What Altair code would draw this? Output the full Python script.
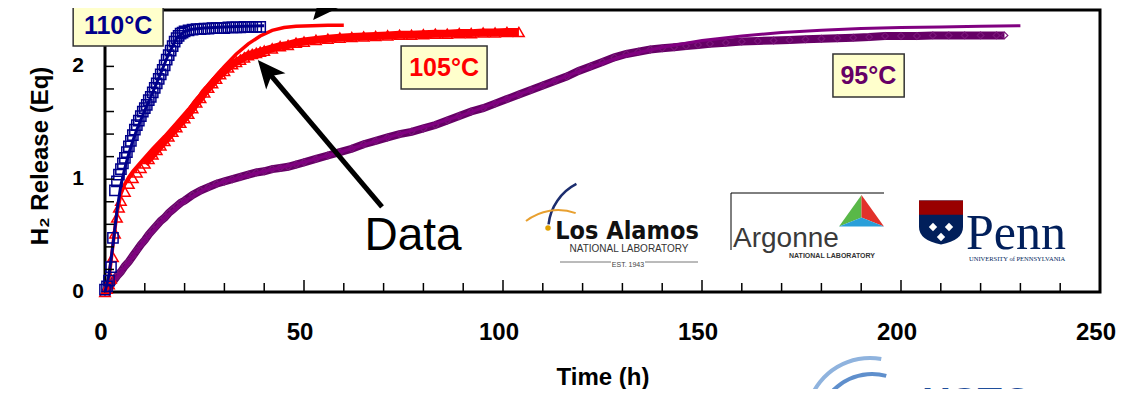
import altair as alt
import pandas as pd

# ---------------- data ----------------
# 110 C : measured points (open squares) and fitted curve
t110 = [0, 0.5, 1.0, 1.5, 2.0, 2.5, 3.0, 3.5, 4.0, 4.5, 5.0, 5.5, 6.0, 6.5, 7.0, 7.5,
        8.0, 8.5, 9.0, 9.5, 10.0, 10.5, 11.0, 11.5, 12.0, 12.5, 13.0, 13.5, 14.0, 14.5,
        15.0, 15.5, 16.0, 16.5, 17.0, 17.5, 18.0, 18.5, 19.0, 19.5, 20.0, 21, 22, 23, 24,
        25, 26, 27, 28, 29, 30, 31, 32, 33, 34, 35, 36, 37, 38, 39]
y110 = [0.02, 0.05, 0.10, 0.22, 0.48, 0.90, 0.98, 1.04, 1.09, 1.14, 1.19, 1.24, 1.29, 1.34,
        1.39, 1.44, 1.48, 1.52, 1.56, 1.60, 1.63, 1.66, 1.70, 1.73, 1.77, 1.81, 1.85, 1.89,
        1.93, 1.97, 2.01, 2.06, 2.10, 2.14, 2.18, 2.22, 2.25, 2.27, 2.29, 2.30, 2.31, 2.32,
        2.325, 2.33, 2.33, 2.335, 2.335, 2.34, 2.34, 2.34, 2.34, 2.345, 2.345, 2.345, 2.345,
        2.35, 2.35, 2.35, 2.35, 2.35]
t110_fit = [0, 1, 2, 3, 4, 5, 6, 7, 8, 10, 12, 14, 16, 18, 20, 22, 25, 30, 35, 40]
y110_fit = [0, 0.15, 0.42, 0.72, 0.95, 1.10, 1.23, 1.34, 1.44, 1.61, 1.77, 1.94, 2.11, 2.25,
            2.31, 2.33, 2.34, 2.35, 2.355, 2.36]

# 105 C : measured points (open triangles) and fitted curve
t105 = [0, 0.5, 1.0, 1.5, 2.0, 2.5, 3.0, 3.5, 4.0, 5, 6, 7, 8, 9, 10, 11, 12, 13, 14, 15,
        16, 17, 18, 19, 20, 21, 22, 23, 24, 25, 26, 27, 28, 29, 30, 31, 32, 33, 34, 35, 36,
        37, 38, 39, 40, 42, 44, 46, 48, 50, 53, 56, 59, 62, 65, 68, 71, 74, 77, 80, 83, 86,
        89, 92, 95, 98, 101, 104]
y105 = [0.0, 0.03, 0.07, 0.12, 0.31, 0.52, 0.66, 0.75, 0.81, 0.89, 0.96, 1.01, 1.06, 1.10,
        1.14, 1.18, 1.22, 1.26, 1.30, 1.34, 1.38, 1.42, 1.46, 1.50, 1.54, 1.58, 1.63, 1.68,
        1.72, 1.77, 1.81, 1.85, 1.89, 1.93, 1.96, 1.99, 2.02, 2.04, 2.06, 2.08, 2.10, 2.11,
        2.12, 2.13, 2.14, 2.16, 2.18, 2.19, 2.21, 2.22, 2.235, 2.245, 2.255, 2.26, 2.265,
        2.27, 2.275, 2.28, 2.28, 2.285, 2.29, 2.29, 2.295, 2.295, 2.30, 2.30, 2.305, 2.305]
t105_fit = [0, 1, 2, 3, 4, 5, 6, 7, 9, 12, 15, 18, 21, 24, 27, 30, 33, 36, 39, 42, 45, 48,
            52, 56, 60]
y105_fit = [0, 0.12, 0.42, 0.70, 0.87, 0.96, 1.02, 1.07, 1.15, 1.27, 1.38, 1.50, 1.62, 1.75,
            1.88, 2.00, 2.11, 2.20, 2.27, 2.32, 2.345, 2.355, 2.36, 2.365, 2.365]

# 95 C : measured points (small diamonds) and fitted curve
t95 = [0, 1, 2, 3, 4, 5, 6, 7, 8, 9, 10, 11, 12, 13, 14, 15, 16, 17, 18, 19, 20, 22, 24,
       26, 28, 30, 32, 34, 36, 38, 40, 42, 44, 46, 48, 50, 53, 56, 59, 62, 65, 68, 71, 74,
       77, 80, 83, 86, 89, 92, 95, 98, 101, 104, 107, 110, 113, 116, 119, 122, 125, 128,
       131, 134, 137, 140, 143, 146, 149, 152, 156, 160, 164, 168, 172, 176, 180, 184, 188,
       192, 196, 200, 204, 208, 212, 216, 220, 224, 226]
y95 = [0.0, 0.05, 0.09, 0.14, 0.18, 0.23, 0.27, 0.32, 0.37, 0.42, 0.46, 0.51, 0.55, 0.59,
       0.63, 0.66, 0.70, 0.73, 0.76, 0.79, 0.81, 0.86, 0.90, 0.93, 0.96, 0.98, 1.00, 1.02,
       1.04, 1.06, 1.07, 1.09, 1.10, 1.11, 1.13, 1.15, 1.18, 1.21, 1.24, 1.27, 1.31, 1.34,
       1.37, 1.40, 1.42, 1.45, 1.48, 1.52, 1.56, 1.60, 1.63, 1.67, 1.71, 1.75, 1.79, 1.83,
       1.87, 1.91, 1.96, 2.00, 2.04, 2.08, 2.11, 2.13, 2.15, 2.16, 2.17, 2.18, 2.19, 2.20,
       2.21, 2.22, 2.225, 2.23, 2.235, 2.24, 2.245, 2.25, 2.255, 2.26, 2.27, 2.27, 2.27,
       2.275, 2.275, 2.275, 2.275, 2.275, 2.275]
t95_fit = [0, 5, 10, 15, 20, 25, 30, 40, 50, 60, 70, 80, 90, 100, 110, 120, 130, 140, 150,
           160, 170, 180, 190, 200, 210, 220, 230]
y95_fit = [0, 0.22, 0.46, 0.66, 0.81, 0.91, 0.98, 1.07, 1.15, 1.25, 1.36, 1.46, 1.57, 1.70,
           1.83, 1.97, 2.09, 2.17, 2.23, 2.27, 2.30, 2.32, 2.335, 2.345, 2.35, 2.355, 2.36]

# axis ticks / labels
x_tick_labels = [0, 50, 100, 150, 200, 250]
y_tick_labels = [0, 1, 2]
x_minor_ticks = [10, 20, 30, 40, 60, 70, 80, 90, 110, 120, 130, 140, 160, 170, 180, 190,
                 210, 220, 230, 240]
x_major_ticks = [50, 100, 150, 200]
y_minor_ticks = [0.2, 0.4, 0.6, 0.8, 1.0, 1.2, 1.4, 1.6, 1.8, 2.0, 2.2, 2.4]
x_extent = [0, 250]
y_extent = [0, 2.5]
x_title = "Time (h)"
y_title = "H₂ Release (Eq)"

series_labels = ["110°C", "105°C", "95°C"]

# ---------------- styling / layout ----------------
FONT = "Liberation Sans"
NAVY = "#00008B"
RED = "#FF0000"
PURPLE_D = "#660066"
PURPLE_L = "#800080"
W, H = 995, 282          # plot area
OX, OY = 105, 10          # page position of plot origin

XS = alt.Scale(domain=x_extent, nice=False, zero=False)
YS = alt.Scale(domain=y_extent, nice=False, zero=False)

ONE = pd.DataFrame({"k": [0]})


def px(x):
    return alt.value(x - OX)


def py(y):
    return alt.value(y - OY)


d110 = pd.DataFrame({"t": t110, "y": y110})
f110 = pd.DataFrame({"t": t110_fit, "y": y110_fit})
d105 = pd.DataFrame({"t": t105, "y": y105})
f105 = pd.DataFrame({"t": t105_fit, "y": y105_fit})
d95 = pd.DataFrame({"t": t95, "y": y95})
f95 = pd.DataFrame({"t": t95_fit, "y": y95_fit})


def enc():
    return dict(x=alt.X("t:Q", scale=XS, axis=None), y=alt.Y("y:Q", scale=YS, axis=None))


layers = []

# 95 C data band + markers
layers.append(alt.Chart(d95).mark_line(color=PURPLE_D, strokeWidth=8, opacity=1)
              .encode(**enc()))
layers.append(alt.Chart(d95).mark_point(shape="diamond", filled=False, size=45,
                                        strokeWidth=1.2, color="#7a157a", opacity=1)
              .encode(**enc()))
layers.append(alt.Chart(f95).mark_line(color=PURPLE_L, strokeWidth=3, opacity=1)
              .encode(**enc()))

# 105 C
layers.append(alt.Chart(d105).transform_filter("datum.t >= 10")
              .mark_line(color=RED, strokeWidth=8, opacity=1).encode(**enc()))
layers.append(alt.Chart(d105).mark_point(shape="triangle-up", filled=False, size=110,
                                         strokeWidth=1.5, color=RED, opacity=1)
              .encode(**enc()))
layers.append(alt.Chart(f105).mark_line(color=RED, strokeWidth=3.5, opacity=1)
              .encode(**enc()))

# 110 C
layers.append(alt.Chart(f110).mark_line(color=NAVY, strokeWidth=3, opacity=1)
              .encode(**enc()))
layers.append(alt.Chart(d110).mark_point(shape="square", filled=False, size=105,
                                         strokeWidth=1.5, color=NAVY, opacity=1)
              .encode(**enc()))

# inward tick marks
layers.append(alt.Chart(pd.DataFrame({"v": x_minor_ticks})).mark_rule(color="black", strokeWidth=1.5)
              .encode(x=alt.X("v:Q", scale=XS, axis=None), y=alt.value(H), y2=alt.value(H - 9)))
layers.append(alt.Chart(pd.DataFrame({"v": x_major_ticks})).mark_rule(color="black", strokeWidth=1.5)
              .encode(x=alt.X("v:Q", scale=XS, axis=None), y=alt.value(H), y2=alt.value(H - 12)))
layers.append(alt.Chart(pd.DataFrame({"v": y_minor_ticks})).mark_rule(color="black", strokeWidth=1.5)
              .encode(y=alt.Y("v:Q", scale=YS, axis=None), x=alt.value(0), x2=alt.value(9)))

# tick labels, placed through the scales
layers.append(alt.Chart(pd.DataFrame({"v": x_tick_labels}))
              .mark_text(font=FONT, fontSize=24, fontWeight="bold", color="black",
                         align="center", baseline="top", dx=-4)
              .encode(x=alt.X("v:Q", scale=XS, axis=None), y=alt.value(H + 29), text="v:Q"))
layers.append(alt.Chart(pd.DataFrame({"v": y_tick_labels}))
              .mark_text(font=FONT, fontSize=21, fontWeight="bold", color="black",
                         align="right", baseline="middle")
              .encode(y=alt.Y("v:Q", scale=YS, axis=None), x=alt.value(-21), text="v:Q"))
# axis titles
layers.append(alt.Chart(ONE).mark_text(text=x_title, font=FONT, fontSize=24, fontWeight="bold",
                                       color="black", align="center", baseline="middle")
              .encode(x=alt.value(498), y=alt.value(H + 86)))
layers.append(alt.Chart(ONE).mark_text(text=y_title, font=FONT, fontSize=24, fontWeight="bold",
                                       color="black", align="center", baseline="middle",
                                       angle=270)
              .encode(x=alt.value(-64), y=alt.value(146)))

# temperature label boxes (annotation anchors in data units)
boxes = pd.DataFrame({
    "label": series_labels,
    "x1": [-8.0, 74.4, 182.9], "x2": [14.6, 96.0, 200.8],
    "y1": [2.544, 2.181, 2.110], "y2": [2.181, 1.800, 1.729],
    "tx": [3.3, 85.2, 191.8], "ty": [2.358, 1.986, 1.915],
    "c": [NAVY, RED, PURPLE_D],
})
layers.append(alt.Chart(boxes).mark_rect(fill="#FFFFCC", stroke="#333333", strokeWidth=1.5)
              .encode(x=alt.X("x1:Q", scale=XS, axis=None), x2="x2:Q",
                      y=alt.Y("y1:Q", scale=YS, axis=None), y2="y2:Q"))
layers.append(alt.Chart(boxes).mark_text(font=FONT, fontSize=25, fontWeight="bold",
                                         align="center", baseline="middle")
              .encode(x=alt.X("tx:Q", scale=XS, axis=None), y=alt.Y("ty:Q", scale=YS, axis=None),
                      text="label:N", color=alt.Color("c:N", scale=None)))

# arrows
arrow_lines = pd.DataFrame({"t1": [69.6, 58.7], "y1": [0.754, 2.683],
                            "t2": [41.2, 55.0], "y2": [1.941, 2.527]})
layers.append(alt.Chart(arrow_lines).mark_rule(color="black", strokeWidth=5)
              .encode(x=alt.X("t1:Q", scale=XS, axis=None), y=alt.Y("y1:Q", scale=YS, axis=None),
                      x2="t2:Q", y2="y2:Q"))
HEAD = "M0,0L0.9,2L0,1.5L-0.9,2Z"
heads = pd.DataFrame({"t": [38.4, 52.3], "y": [2.057, 2.411], "a": [320, 220]})
layers.append(alt.Chart(heads).mark_point(shape=HEAD, filled=True, size=784, color="black",
                                          opacity=1, strokeWidth=0)
              .encode(x=alt.X("t:Q", scale=XS, axis=None), y=alt.Y("y:Q", scale=YS, axis=None),
                      angle=alt.Angle("a:Q", scale=None)))

# "Data" annotation
data_note = pd.DataFrame({"t": [77.4], "y": [0.372], "s": ["Data"]})
layers.append(alt.Chart(data_note).mark_text(font=FONT, fontSize=46, align="center",
                                             baseline="alphabetic", color="black")
              .encode(x=alt.X("t:Q", scale=XS, axis=None), y=alt.Y("y:Q", scale=YS, axis=None),
                      text="s:N"))


# ---- logos (decorative) ----
def ptext(txt, x, y, **kw):
    return alt.Chart(ONE).mark_text(text=txt, **kw).encode(x=px(x), y=py(y))


def arc(x, y, r, r2, a1, a2, color):
    return alt.Chart(ONE).mark_arc(radius=r, radius2=r2, theta=a1, theta2=a2, color=color) \
        .encode(x=px(x), y=py(y))


def sym(path, x, y, size, color):
    return alt.Chart(ONE).mark_point(shape=path, size=size, filled=True, color=color,
                                     opacity=1, strokeWidth=0).encode(x=px(x), y=py(y))


def seg(x1, y1, x2, y2, color, w):
    return alt.Chart(ONE).mark_rule(color=color, strokeWidth=w).encode(
        x=px(x1), y=py(y1), x2=px(x2), y2=py(y2))


# Los Alamos
layers.append(arc(600, 230, 53, 50.5, 4.82, 5.81, "#1c2d6e"))
layers.append(arc(558, 262, 53, 51, 5.62, 6.63, "#e8a030"))
layers.append(alt.Chart(ONE).mark_point(shape="circle", size=30, filled=True, color="#e0a000",
                                        opacity=1).encode(x=px(548), y=py(228)))
layers.append(ptext("Los Alamos", 627, 231, font="DejaVu Sans Condensed, Liberation Sans",
                    fontSize=25, fontWeight="bold", align="center", color="#111111"))
layers.append(ptext("NATIONAL LABORATORY", 629, 249, font=FONT, fontSize=10,
                    align="center", color="#333333"))
layers.append(ptext("EST. 1943", 628, 265, font=FONT, fontSize=7, align="center",
                    color="#444444"))
layers.append(seg(560, 262, 611, 262, "#777777", 1))
layers.append(seg(645, 262, 698, 262, "#777777", 1))

# Argonne
layers.append(seg(731, 193, 884, 193, "black", 1))
layers.append(seg(731, 193, 731, 250, "black", 1))
layers.append(ptext("Argonne", 733, 239, font=FONT, fontSize=28, align="left",
                    color="#3a3a3a"))
layers.append(sym("M0,-1L-1,0.4L0,0Z", 861.5, 217.5, 2025, "#59b848"))
layers.append(sym("M0,-1L1,0.4L0,0Z", 861.5, 217.5, 2025, "#e2312b"))
layers.append(sym("M-1,0.4L1,0.4L0,0Z", 861.5, 217.5, 2025, "#2a9fd9"))
layers.append(ptext("NATIONAL LABORATORY", 832, 256, font=FONT, fontSize=7,
                    fontWeight="bold", align="center", color="#333333"))

# Penn
layers.append(sym("M-1,-1L1,-1L1,0.2Q1,0.8 0,1Q-1,0.8 -1,0.2Z", 941, 222.5, 1936, "#011F5B"))
layers.append(sym("M-1,-1L1,-1L1,-0.35L-1,-0.35Z", 941, 222.5, 1936, "#990000"))
for (dx, dy) in [(-8, 0), (8, 0), (0, 10)]:
    layers.append(alt.Chart(ONE).mark_point(shape="diamond", size=70, filled=True,
                                            color="white", opacity=1)
                  .encode(x=px(941 + dx), y=py(227 + dy)))
layers.append(ptext("Penn", 966, 234, font="Liberation Serif", fontSize=50, align="left",
                    color="#011F5B"))
layers.append(ptext("UNIVERSITY of PENNSYLVANIA", 969, 259, font="Liberation Serif",
                    fontSize=6.5, align="left", color="#011F5B"))

# bottom-right partner logo (cut by the frame)
layers.append(arc(870, 422, 66, 62, 5.03, 6.46, "#8fb3de"))
layers.append(arc(872, 428, 56, 52, 5.15, 6.55, "#5f8fcc"))
layers.append(ptext("HSTC", 922, 384, font=FONT, fontSize=40, fontWeight="bold",
                    align="left", baseline="top", color="#1f4e9b"))

chart = alt.layer(*layers).properties(
    width=W, height=H,
    padding={"left": 97, "top": 2, "right": 17, "bottom": 97},
    autosize=alt.AutoSizeParams(type="none"),
    background="white",
).configure_view(stroke="black", strokeWidth=3)

chart.save("out.html", embed_options={"renderer": "svg", "actions": False})
